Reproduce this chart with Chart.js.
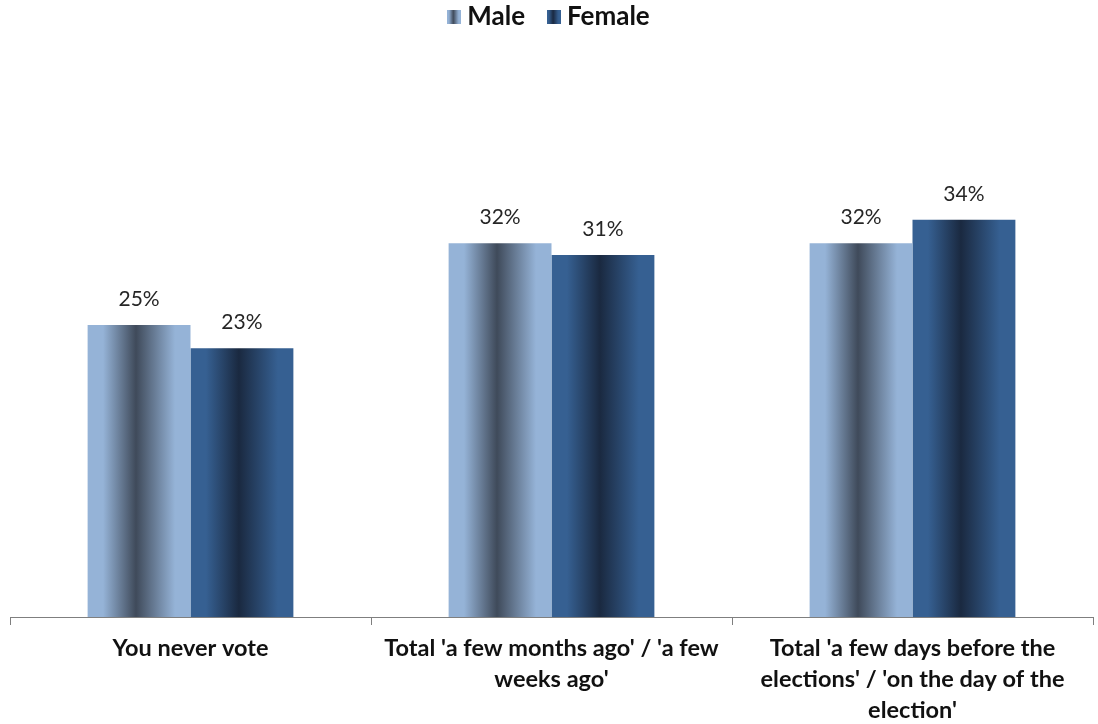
<!DOCTYPE html>
<html>
<head>
<meta charset="utf-8">
<script src="https://cdn.jsdelivr.net/npm/chart.js@4/dist/chart.umd.min.js"></script>
<style>
html,body{margin:0;padding:0;background:#fff;}
#wrap{width:1098px;height:724px;position:relative;}
</style>
</head>
<body>
<div id="wrap"><canvas id="c" width="1098" height="724"></canvas></div>
<script>
const categories = [
  ["You never vote"],
  ["Total 'a few months ago' / 'a few", "weeks ago'"],
  ["Total 'a few days before the", "elections' / 'on the day of the", "election'"]
];
const seriesNames = ["Male", "Female"];
const maleValues = [25, 32, 32];
const femaleValues = [23, 31, 34];

const palettes = [
  {edge: '#95b3d7', mid: '#3f4a5a'},
  {edge: '#366092', mid: '#1a2940'}
];

function makeGrad(ctx, x0, x1, p) {
  const g = ctx.createLinearGradient(x0, 0, x1, 0);
  g.addColorStop(0, p.edge);
  g.addColorStop(0.15, p.edge);
  g.addColorStop(0.47, p.mid);
  g.addColorStop(0.85, p.edge);
  g.addColorStop(1, p.edge);
  return g;
}

function legendIcon(p) {
  const cv = document.createElement('canvas');
  cv.width = 14; cv.height = 14;
  const c = cv.getContext('2d');
  c.fillStyle = makeGrad(c, 0, 14, p);
  c.fillRect(0, 0, 14, 14);
  return cv;
}
const icons = palettes.map(legendIcon);

const gradientPlugin = {
  id: 'gradBars',
  beforeDatasetsDraw(chart) {
    const ctx = chart.ctx;
    chart.data.datasets.forEach((ds, di) => {
      const meta = chart.getDatasetMeta(di);
      meta.data.forEach(el => {
        const x0 = el.x - el.width / 2, x1 = el.x + el.width / 2;
        el.options = Object.assign({}, el.options, {backgroundColor: makeGrad(ctx, x0, x1, palettes[di])});
      });
    });
  }
};

const labelPlugin = {
  id: 'valLabels',
  afterDatasetsDraw(chart) {
    const ctx = chart.ctx;
    ctx.save();
    ctx.font = '21px Lato';
    ctx.fillStyle = '#262626';
    ctx.textAlign = 'center';
    ctx.textBaseline = 'middle';
    chart.data.datasets.forEach((ds, di) => {
      const meta = chart.getDatasetMeta(di);
      meta.data.forEach((el, i) => {
        ctx.fillText(ds.data[i] + '%', el.x, el.y - 26);
      });
    });
    ctx.restore();
  }
};

new Chart(document.getElementById('c'), {
  type: 'bar',
  data: {
    labels: categories,
    datasets: [
      {label: seriesNames[0], data: maleValues, pointStyle: icons[0]},
      {label: seriesNames[1], data: femaleValues, pointStyle: icons[1]}
    ]
  },
  options: {
    responsive: false,
    animation: false,
    layout: {padding: {left: 10, right: 5, top: -24, bottom: -10}},
    datasets: {bar: {categoryPercentage: 0.57, barPercentage: 1.0}},
    plugins: {
      legend: {
        position: 'top',
        labels: {
          usePointStyle: true,
          font: {family: 'Lato', size: 26, weight: 'bold'},
          color: '#111',
          padding: 28,
          boxWidth: 1,
          boxHeight: 14
        }
      },
      tooltip: {enabled: false}
    },
    scales: {
      y: {display: false, min: 0, max: 49.4},
      x: {
        grid: {offset: true, drawOnChartArea: false, drawTicks: true, tickLength: 8, color: '#7f7f7f'},
        border: {display: true, color: '#7f7f7f', width: 1},
        ticks: {
          font: {family: 'Lato', size: 23.5, weight: 'bold', lineHeight: '31px'},
          color: '#111',
          padding: 8,
          maxRotation: 0,
          autoSkip: false
        }
      }
    }
  },
  plugins: [gradientPlugin, labelPlugin]
});
</script>
</body>
</html>
